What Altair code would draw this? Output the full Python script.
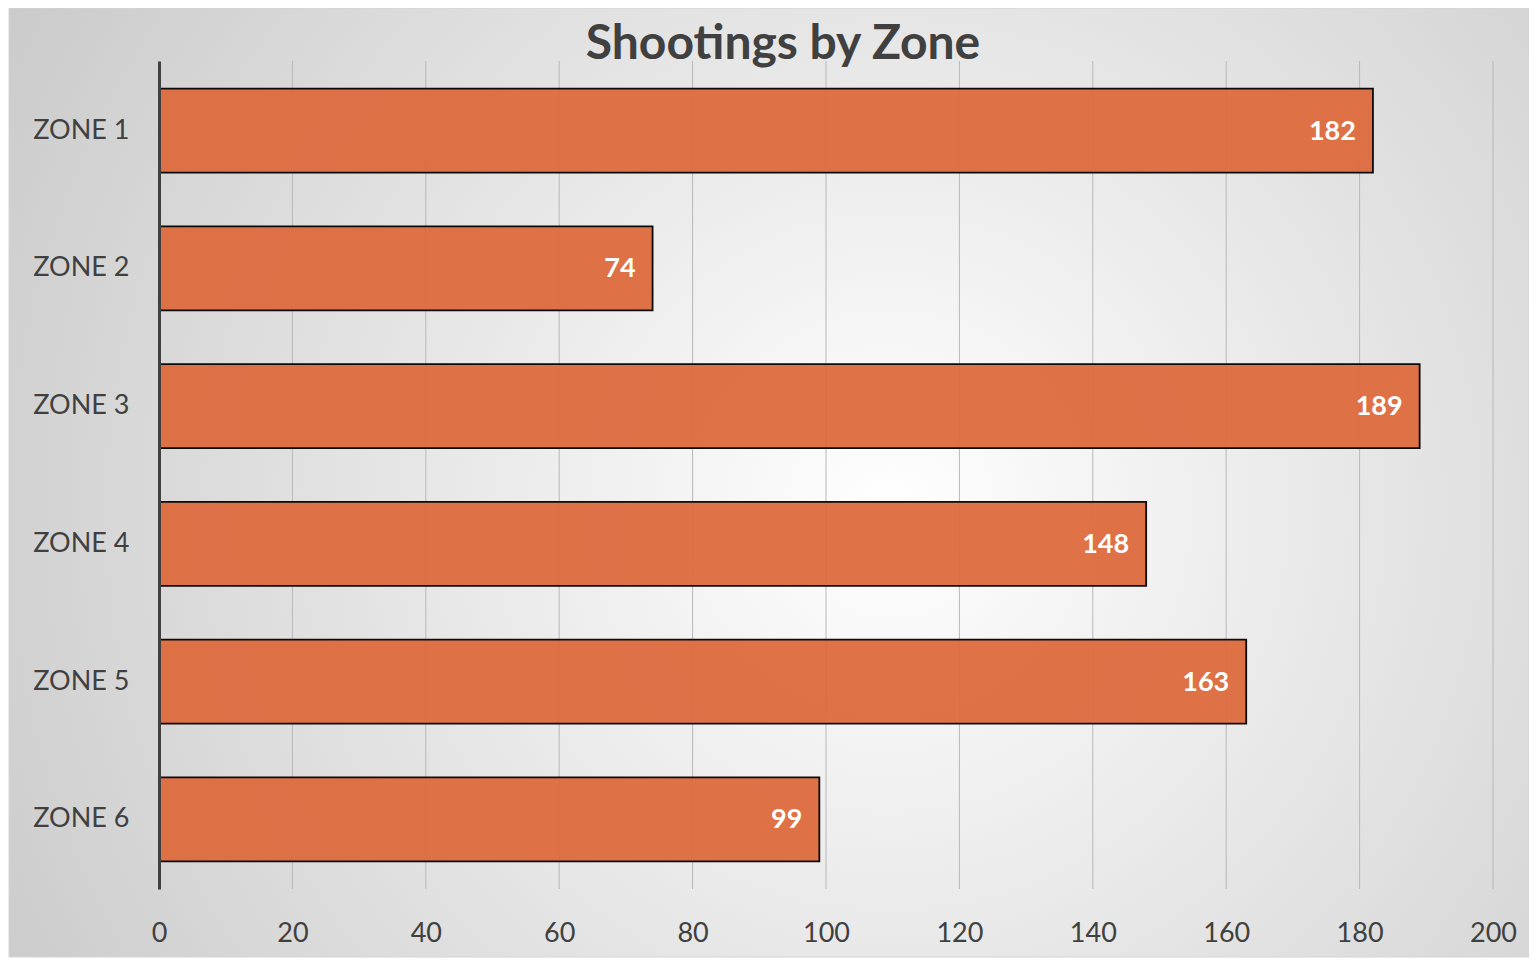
import altair as alt
import pandas as pd

zones = ["ZONE 1", "ZONE 2", "ZONE 3", "ZONE 4", "ZONE 5", "ZONE 6"]
shootings = [182, 74, 189, 148, 163, 99]
tick_values = [0, 20, 40, 60, 80, 100, 120, 140, 160, 180, 200]
title_text = "Shootings by Zone"

W, H = 1334, 828
PAD = {"left": 151, "top": 53, "right": 36, "bottom": 69}
FONT = "Lato"
TXT = "#404040"

df = pd.DataFrame({"zone": zones, "value": shootings})
grid_df = pd.DataFrame({"tick": tick_values})
bg_df = pd.DataFrame({"a": [0]})

xscale = alt.Scale(domain=[0, 200], nice=False)
yscale = alt.Scale(domain=zones, paddingInner=0.39, paddingOuter=0.2)
xaxis = alt.Axis(values=tick_values, grid=False, domain=False, ticks=False,
                 labelFontSize=27, labelFont=FONT, labelColor=TXT, labelFlush=False,
                 labelPadding=31, title=None, zindex=1)
yaxis = alt.Axis(domain=True, domainColor=TXT, domainWidth=3, ticks=False,
                 labelFontSize=27, labelFont=FONT, labelColor=TXT,
                 labelPadding=30, title=None, zindex=1)

gradient = {
    "gradient": "radial",
    "x1": 0.58, "y1": 0.52, "r1": 0,
    "x2": 0.58, "y2": 0.52, "r2": 0.78,
    "stops": [
        {"offset": 0, "color": "#ffffff"},
        {"offset": 1, "color": "#c2c2c2"},
    ],
}

bg = alt.Chart(bg_df).mark_rect(fill=gradient, stroke="#d4d4d4", strokeWidth=1).encode(
    x=alt.value(-PAD["left"] + 1),
    x2=alt.value(W + PAD["right"]),
    y=alt.value(-PAD["top"]),
    y2=alt.value(H + PAD["bottom"] - 1),
)

title = alt.Chart(bg_df).mark_text(align="center", baseline="alphabetic", fontSize=48,
                                   font=FONT, fontWeight="bold", color=TXT).encode(
    x=alt.value(624),
    y=alt.value(-2),
    text=alt.value(title_text),
)

grid = alt.Chart(grid_df).mark_rule(color="#b8b8b8", strokeWidth=1).encode(
    x=alt.X("tick:Q", scale=xscale, axis=xaxis),
    y=alt.value(0),
    y2=alt.value(H),
)

bars = alt.Chart(df).mark_bar(color="#DE6B3E", opacity=0.95, stroke="#000000", strokeWidth=1.8).encode(
    x=alt.X("value:Q", scale=xscale, axis=xaxis),
    y=alt.Y("zone:N", scale=yscale, sort=zones, axis=yaxis),
)

labels = alt.Chart(df).mark_text(align="right", baseline="middle", dx=-17, dy=1,
                                 color="white", fontWeight="bold", fontSize=27, font=FONT).encode(
    x=alt.X("value:Q", scale=xscale, axis=xaxis),
    y=alt.Y("zone:N", scale=yscale, sort=zones, axis=yaxis),
    text=alt.Text("value:Q"),
)

chart = alt.layer(bg, title, grid, bars, labels).properties(
    width=W, height=H,
    autosize=alt.AutoSizeParams(type="none"),
    padding=PAD,
).configure_view(stroke=None)

chart.save("out.html", embed_options={"renderer": "svg", "actions": False})
